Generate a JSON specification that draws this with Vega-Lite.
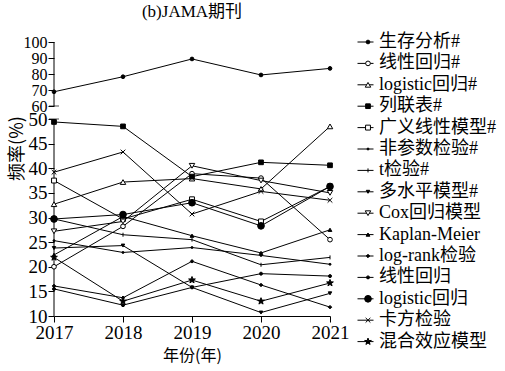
{
  "$schema": "https://vega.github.io/schema/vega-lite/v6.json",
  "autosize": "none",
  "padding": {"left": 54, "top": 42, "right": 175, "bottom": 55},
  "width": 276,
  "height": 274,
  "background": "white",
  "config": {"view": {"stroke": null}},
  "title": {"text": "(b)JAMA期刊", "fontSize": 17, "font": "Liberation Serif, Noto Sans CJK SC", "fontWeight": "normal", "color": "black", "offset": 12, "anchor": "middle"},
  "data": {"values": [
    {"s": "生存分析#", "year": 2017, "v": 68.9}, {"s": "生存分析#", "year": 2018, "v": 78.3}, {"s": "生存分析#", "year": 2019, "v": 89.4}, {"s": "生存分析#", "year": 2020, "v": 79.4}, {"s": "生存分析#", "year": 2021, "v": 83.5},
    {"s": "线性回归#", "year": 2017, "v": 20.0}, {"s": "线性回归#", "year": 2018, "v": 28.2}, {"s": "线性回归#", "year": 2019, "v": 38.9}, {"s": "线性回归#", "year": 2020, "v": 38.0}, {"s": "线性回归#", "year": 2021, "v": 25.5},
    {"s": "logistic回归#", "year": 2017, "v": 32.7}, {"s": "logistic回归#", "year": 2018, "v": 37.2}, {"s": "logistic回归#", "year": 2019, "v": 37.9}, {"s": "logistic回归#", "year": 2020, "v": 35.8}, {"s": "logistic回归#", "year": 2021, "v": 48.5},
    {"s": "列联表#", "year": 2017, "v": 49.4}, {"s": "列联表#", "year": 2018, "v": 48.5}, {"s": "列联表#", "year": 2019, "v": 38.3}, {"s": "列联表#", "year": 2020, "v": 41.2}, {"s": "列联表#", "year": 2021, "v": 40.6},
    {"s": "广义线性模型#", "year": 2017, "v": 37.5}, {"s": "广义线性模型#", "year": 2018, "v": 29.7}, {"s": "广义线性模型#", "year": 2019, "v": 33.7}, {"s": "广义线性模型#", "year": 2020, "v": 29.2}, {"s": "广义线性模型#", "year": 2021, "v": 36.3},
    {"s": "非参数检验#", "year": 2017, "v": 25.3}, {"s": "非参数检验#", "year": 2018, "v": 22.9}, {"s": "非参数检验#", "year": 2019, "v": 23.9}, {"s": "非参数检验#", "year": 2020, "v": 22.3}, {"s": "非参数检验#", "year": 2021, "v": 20.5},
    {"s": "t检验#", "year": 2017, "v": 29.7}, {"s": "t检验#", "year": 2018, "v": 26.5}, {"s": "t检验#", "year": 2019, "v": 25.5}, {"s": "t检验#", "year": 2020, "v": 20.4}, {"s": "t检验#", "year": 2021, "v": 21.9},
    {"s": "多水平模型#", "year": 2017, "v": 23.8}, {"s": "多水平模型#", "year": 2018, "v": 24.3}, {"s": "多水平模型#", "year": 2019, "v": 15.8}, {"s": "多水平模型#", "year": 2020, "v": 10.7}, {"s": "多水平模型#", "year": 2021, "v": 14.6},
    {"s": "Cox回归模型", "year": 2017, "v": 27.2}, {"s": "Cox回归模型", "year": 2018, "v": 29.2}, {"s": "Cox回归模型", "year": 2019, "v": 40.5}, {"s": "Cox回归模型", "year": 2020, "v": 37.5}, {"s": "Cox回归模型", "year": 2021, "v": 35.0},
    {"s": "Kaplan-Meier", "year": 2017, "v": 22.4}, {"s": "Kaplan-Meier", "year": 2018, "v": 30.2}, {"s": "Kaplan-Meier", "year": 2019, "v": 26.3}, {"s": "Kaplan-Meier", "year": 2020, "v": 22.8}, {"s": "Kaplan-Meier", "year": 2021, "v": 27.5},
    {"s": "log-rank检验", "year": 2017, "v": 16.1}, {"s": "log-rank检验", "year": 2018, "v": 13.7}, {"s": "log-rank检验", "year": 2019, "v": 21.1}, {"s": "log-rank检验", "year": 2020, "v": 16.3}, {"s": "log-rank检验", "year": 2021, "v": 11.8},
    {"s": "线性回归", "year": 2017, "v": 15.5}, {"s": "线性回归", "year": 2018, "v": 12.2}, {"s": "线性回归", "year": 2019, "v": 15.8}, {"s": "线性回归", "year": 2020, "v": 18.6}, {"s": "线性回归", "year": 2021, "v": 18.1},
    {"s": "logistic回归", "year": 2017, "v": 29.7}, {"s": "logistic回归", "year": 2018, "v": 30.6}, {"s": "logistic回归", "year": 2019, "v": 33.0}, {"s": "logistic回归", "year": 2020, "v": 28.3}, {"s": "logistic回归", "year": 2021, "v": 36.3},
    {"s": "卡方检验", "year": 2017, "v": 39.2}, {"s": "卡方检验", "year": 2018, "v": 43.3}, {"s": "卡方检验", "year": 2019, "v": 30.7}, {"s": "卡方检验", "year": 2020, "v": 35.3}, {"s": "卡方检验", "year": 2021, "v": 33.5},
    {"s": "混合效应模型", "year": 2017, "v": 21.9}, {"s": "混合效应模型", "year": 2018, "v": 13.0}, {"s": "混合效应模型", "year": 2019, "v": 17.3}, {"s": "混合效应模型", "year": 2020, "v": 13.0}, {"s": "混合效应模型", "year": 2021, "v": 16.7}
  ]},
  "encoding": {
    "x": {"field": "year", "type": "quantitative",
      "scale": {"domain": [2017, 2021], "nice": false, "zero": false},
      "axis": {"values": [2017, 2018, 2019, 2020, 2021], "format": "d", "grid": false, "domainColor": "black", "tickColor": "black", "tickSize": 6, "labelFontSize": 19, "labelFont": "Liberation Serif", "labelColor": "black", "labelPadding": 1, "labelFlush": false, "labelOverlap": false, "title": "年份(年)", "titleFont": "Noto Sans CJK SC", "titleFontSize": 16, "titleFontWeight": "normal", "titleColor": "black", "titlePadding": 5}},
    "y": {"field": "v", "type": "quantitative",
      "scale": {"domain": [10, 50, 60, 100], "range": [274, 77, 64, 0], "nice": false, "zero": false},
      "axis": {"values": [10, 15, 20, 25, 30, 35, 40, 45, 50, 60, 70, 80, 90, 100], "domain": false, "grid": false, "tickColor": "black", "tickSize": 6, "labelFontSize": {"condition": {"test": "datum.value >= 60", "value": 16}, "value": 19}, "labelFont": "Liberation Serif", "labelColor": "black", "labelPadding": 1, "labelFlush": false, "labelOverlap": false, "title": "频率(%)", "titleFont": "Noto Sans CJK SC", "titleFontSize": 18, "titleFontWeight": "normal", "titleColor": "black", "titleX": -28, "titleY": 106, "titleAlign": "center", "titleBaseline": "bottom"}}
  },
  "layer": [
    {
      "data": {"values": [{"year": 2017, "v": 10, "v2": 50}, {"year": 2017, "v": 60, "v2": 100}]},
      "mark": {"type": "rule", "color": "black", "strokeWidth": 1},
      "encoding": {"y2": {"field": "v2"}}
    },
    {
      "data": {"values": [{"year": 2017, "v": 50}, {"year": 2017, "v": 60}]},
      "mark": {"type": "tick", "orient": "horizontal", "size": 10, "thickness": 1, "color": "black"},
      "encoding": {}
    },
    {
      "mark": {"type": "line", "strokeWidth": 1},
      "encoding": {
        "color": {"field": "s", "type": "nominal",
          "sort": ["生存分析#","线性回归#","logistic回归#","列联表#","广义线性模型#","非参数检验#","t检验#","多水平模型#","Cox回归模型","Kaplan-Meier","log-rank检验","线性回归","logistic回归","卡方检验","混合效应模型"],
          "scale": {"range": ["black","black","black","black","black","black","black","black","black","black","black","black","black","black","black"]},
          "legend": {"orient": "none", "legendX": 302.5, "legendY": -9, "title": null, "labelFont": "Liberation Serif, Noto Sans CJK SC", "labelFontSize": 18, "rowPadding": 3.4, "labelExpr": "' '", "labelOpacity": 0, "padding": 0, "symbolSize": 256, "symbolStrokeWidth": 1, "symbolType": "stroke", "symbolStrokeColor": "black", "labelLimit": 0}}
      }
    },
    {
      "mark": {"type": "point", "filled": true, "stroke": "black", "strokeWidth": 1, "opacity": 1},
      "encoding": {
        "shape": {"field": "s", "type": "nominal",
          "scale": {"domain": ["生存分析#","线性回归#","logistic回归#","列联表#","广义线性模型#","非参数检验#","t检验#","多水平模型#","Cox回归模型","Kaplan-Meier","log-rank检验","线性回归","logistic回归","卡方检验","混合效应模型"],
            "range": ["circle","circle","triangle-up","square","square","circle","M0,-1L0,1","triangle-down","triangle-down","triangle-up","diamond","circle","circle","M-1,-1L1,1M-1,1L1,-1","M0,-1L0.235,-0.324L0.951,-0.309L0.38,0.124L0.588,0.809L0,0.4L-0.588,0.809L-0.38,0.124L-0.951,-0.309L-0.235,-0.324Z"]},
          "legend": {"orient": "none", "legendX": 305, "legendY": -9, "title": null, "labelFont": "Liberation Serif, Noto Sans CJK SC", "labelFontSize": 18, "labelColor": "black", "rowPadding": 3.4, "labelOffset": 2, "padding": 0, "symbolStrokeColor": "black", "symbolStrokeWidth": 1, "labelLimit": 0}},
        "fill": {"field": "s", "type": "nominal",
          "scale": {"domain": ["生存分析#","线性回归#","logistic回归#","列联表#","广义线性模型#","非参数检验#","t检验#","多水平模型#","Cox回归模型","Kaplan-Meier","log-rank检验","线性回归","logistic回归","卡方检验","混合效应模型"],
            "range": ["black","white","white","black","white","black","black","black","white","black","black","black","black","white","black"]}},
        "size": {"field": "s", "type": "nominal",
          "scale": {"type": "ordinal", "domain": ["生存分析#","线性回归#","logistic回归#","列联表#","广义线性模型#","非参数检验#","t检验#","多水平模型#","Cox回归模型","Kaplan-Meier","log-rank检验","线性回归","logistic回归","卡方检验","混合效应模型"],
            "range": [14, 22, 30, 22, 24, 4, 16, 12, 30, 14, 12, 9, 45, 22, 50]}}
      }
    }
  ]
}
